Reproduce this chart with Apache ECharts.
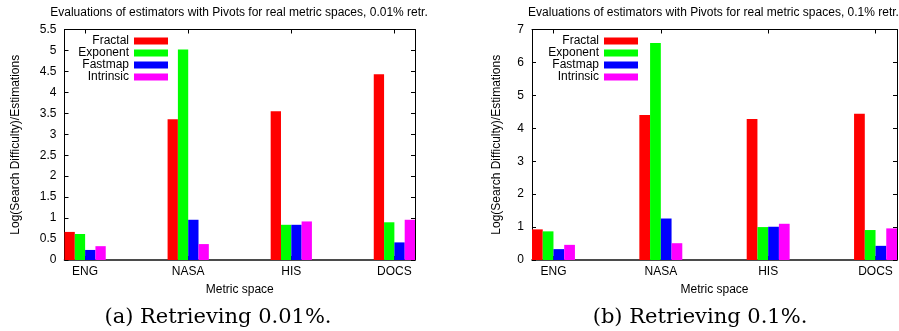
<!DOCTYPE html>
<html>
<head>
<meta charset="utf-8">
<script src="https://cdn.jsdelivr.net/npm/echarts@6/dist/echarts.min.js"></script>
<style>
  html, body { margin: 0; padding: 0; background: #fff; }
  #chart { width: 899px; height: 331px; }
</style>
</head>
<body>
<div id="chart"></div>
<script>
// ---- data ----
const categories = ['ENG', 'NASA', 'HIS', 'DOCS'];
const positions = [0, 1, 2, 3];
const seriesNames = ['Fractal', 'Exponent', 'Fastmap', 'Intrinsic'];

// (a) Retrieving 0.01%
const fractalA   = [0.67, 3.36, 3.55, 4.43];
const exponentA  = [0.62, 5.02, 0.84, 0.90];
const fastmapA   = [0.24, 0.96, 0.84, 0.42];
const intrinsicA = [0.33, 0.38, 0.92, 0.96];

// (b) Retrieving 0.1%
const fractalB   = [0.93, 4.40, 4.28, 4.44];
const exponentB  = [0.87, 6.59, 1.00, 0.91];
const fastmapB   = [0.33, 1.26, 1.01, 0.43];
const intrinsicB = [0.46, 0.51, 1.10, 0.96];

const titleA = 'Evaluations of estimators with Pivots for real metric spaces, 0.01% retr.';
const titleB = 'Evaluations of estimators with Pivots for real metric spaces, 0.1% retr.';
const captionA = '(a) Retrieving 0.01%.';
const captionB = '(b) Retrieving 0.1%.';
const xName = 'Metric space';
const yName = 'Log(Search Difficulty)/Estimations';

// ---- style ----
const colors = ['#ff0000', '#00ff00', '#0000ff', '#ff00ff'];
const SANS = 'Liberation Sans, Arial, Helvetica, sans-serif';
const SERIF = 'DejaVu Serif, serif';
const FS = 12;

function xAxes(grid) {
  const common = {
    gridIndex: grid, type: 'value', min: -0.2, max: 3.2,
    splitLine: { show: false }
  };
  return [
    Object.assign({}, common, {
      position: 'bottom',
      axisLine: { show: true, onZero: false, lineStyle: { color: '#111', width: 1.6 } },
      axisTick: { show: true, inside: true, length: 4, customValues: positions, lineStyle: { color: '#000' } },
      axisLabel: { show: true, customValues: positions, margin: 6, color: '#000',
        fontFamily: SANS, fontSize: FS,
        formatter: function (v) { return categories[Math.round(v)]; } },
      name: xName, nameLocation: 'middle', nameGap: 24,
      nameTextStyle: { color: '#000', fontFamily: SANS, fontSize: FS }
    }),
    Object.assign({}, common, {
      position: 'top',
      axisLine: { show: true, onZero: false, lineStyle: { color: '#000', width: 1 } },
      axisTick: { show: true, inside: true, length: 4, customValues: positions, lineStyle: { color: '#000' } },
      axisLabel: { show: false }
    })
  ];
}

function yAxes(grid, max, interval, gap) {
  const common = {
    gridIndex: grid, type: 'value', min: 0, max: max, interval: interval,
    splitLine: { show: false }
  };
  return [
    Object.assign({}, common, {
      position: 'left',
      axisLine: { show: true, onZero: false, lineStyle: { color: '#000', width: 1 } },
      axisTick: { show: true, inside: true, length: 4, lineStyle: { color: '#000' } },
      axisLabel: { show: true, margin: 8, color: '#000', fontFamily: SANS, fontSize: FS },
      name: yName, nameLocation: 'middle', nameGap: gap,
      nameTextStyle: { color: '#000', fontFamily: SANS, fontSize: FS }
    }),
    Object.assign({}, common, {
      position: 'right',
      axisLine: { show: true, onZero: false, lineStyle: { color: '#000', width: 1 } },
      axisTick: { show: true, inside: true, length: 4, lineStyle: { color: '#000' } },
      axisLabel: { show: false }
    })
  ];
}

function barSeries(values, idx, grid) {
  return {
    type: 'bar',
    name: seriesNames[idx],
    xAxisIndex: grid * 2,
    yAxisIndex: grid * 2,
    data: positions.map(function (p, i) { return [p, values[i]]; }),
    barWidth: '10%',
    barGap: '0%',
    itemStyle: { color: colors[idx] },
    emphasis: { disabled: true },
    animation: false
  };
}

function legend(right) {
  return {
    data: seriesNames,
    orient: 'vertical',
    align: 'right',
    right: right,
    top: 35,
    padding: 0,
    itemGap: 0,
    itemWidth: 34,
    itemHeight: 7,
    icon: 'rect',
    selectedMode: false,
    textStyle: { color: '#000', fontFamily: SANS, fontSize: FS }
  };
}

function text(str, x, y, font) {
  return {
    type: 'text', x: x, y: y, silent: true,
    style: { text: str, font: font, fill: '#000',
      textAlign: 'center', textVerticalAlign: 'middle',
      align: 'center', verticalAlign: 'middle' }
  };
}

const option = {
  animation: false,
  backgroundColor: '#fff',
  grid: [
    { left: 64.5, right: 484, top: 29.5, bottom: 71 },
    { left: 532, right: 2, top: 29.5, bottom: 71 }
  ],
  xAxis: xAxes(0).concat(xAxes(1)),
  yAxis: yAxes(0, 5.5, 0.5, 42.5).concat(yAxes(1, 7, 1, 29.3)),
  legend: [legend(731), legend(261)],
  series: [
    barSeries(fractalA, 0, 0), barSeries(exponentA, 1, 0),
    barSeries(fastmapA, 2, 0), barSeries(intrinsicA, 3, 0),
    barSeries(fractalB, 0, 1), barSeries(exponentB, 1, 1),
    barSeries(fastmapB, 2, 1), barSeries(intrinsicB, 3, 1)
  ],
  graphic: [
    text(titleA, 239, 13, FS + 'px ' + SANS),
    text(titleB, 713.5, 13, FS + 'px ' + SANS),
    text(captionA, 218, 318, '21px ' + SERIF),
    text(captionB, 700, 318, '21px ' + SERIF)
  ]
};

const chart = echarts.init(document.getElementById('chart'), null, { renderer: 'canvas' });
chart.setOption(option);
</script>
</body>
</html>
